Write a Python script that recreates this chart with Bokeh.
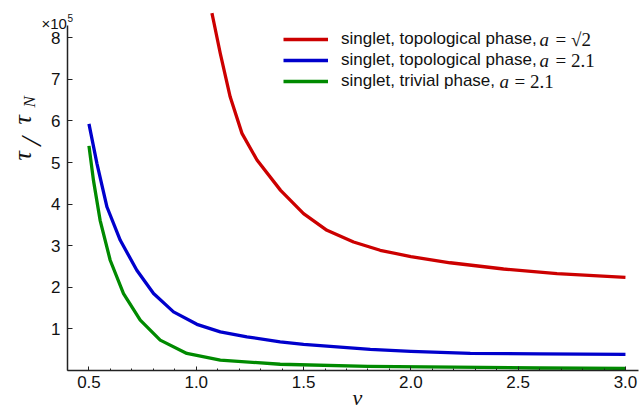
import math
from bokeh.plotting import figure
from bokeh.models import (Range1d, FixedTicker, CustomJSTickFormatter, Legend,
                          LegendItem, Label)
from bokeh.embed import file_html
from bokeh.resources import INLINE

# ---- data (tau / tau_N vs v) ----
v_red = [1.073, 1.08, 1.112, 1.158, 1.213, 1.283, 1.393, 1.5, 1.609, 1.733,
         1.857, 2.0, 2.183, 2.432, 2.681, 3.0]
tau_red = [8.59e5, 8.42e5, 7.62e5, 6.58e5, 5.70e5, 5.06e5, 4.33e5, 3.77e5,
           3.37e5, 3.09e5, 2.89e5, 2.74e5, 2.59e5, 2.44e5, 2.33e5, 2.24e5]

v_blue = [0.5, 0.537, 0.584, 0.646, 0.723, 0.801, 0.894, 1.003, 1.112, 1.236,
          1.391, 1.5, 1.811, 2.0, 2.277, 2.6, 3.0]
tau_blue = [5.93e5, 4.98e5, 3.93e5, 3.13e5, 2.41e5, 1.85e5, 1.41e5, 1.11e5,
            0.93e5, 0.81e5, 0.69e5, 0.63e5, 0.51e5, 0.46e5, 0.41e5, 0.40e5,
            0.39e5]

v_green = [0.5, 0.521, 0.552, 0.599, 0.661, 0.739, 0.832, 0.956, 1.112, 1.391,
           1.8, 2.2, 2.6, 3.0]
tau_green = [5.40e5, 4.57e5, 3.61e5, 2.65e5, 1.85e5, 1.21e5, 0.73e5, 0.41e5,
             0.25e5, 0.15e5, 0.10e5, 0.08e5, 0.06e5, 0.05e5]

x_ticks = [0.5, 1.0, 1.5, 2.0, 2.5, 3.0]
x_minor = [round(0.4 + 0.1 * i, 1) for i in range(27)]
y_ticks = [1e5, 2e5, 3e5, 4e5, 5e5, 6e5, 7e5, 8e5]

labels_text = ["singlet, topological phase,", "singlet, topological phase,",
               "singlet, trivial phase,"]
labels_math = ["= \u221a2", "= 2.1", "= 2.1"]

# ---- layout: frame covers whole canvas, axes drawn at fixed locations ----
W, H = 639, 409
PXU_X = 214.6          # px per unit v
PXU_Y = 41.6 / 1e5     # px per unit tau
AX_X, AX_Y = 67, 370   # canvas px of the axes' origin (v=0.4, tau=0)
X0 = 0.4 - AX_X / PXU_X
X1 = 0.4 + (W - AX_X) / PXU_X
Y1 = AX_Y / PXU_Y
Y0 = -(H - AX_Y) / PXU_Y


def dx(px):
    return 0.4 + (px - AX_X) / PXU_X


def dy(py):
    return (AX_Y - py) / PXU_Y


p = figure(width=W, height=H, output_backend="svg", toolbar_location=None,
           x_range=Range1d(X0, X1), y_range=Range1d(Y0, Y1),
           min_border=0)
p.outline_line_color = None
p.grid.visible = False
p.background_fill_color = "white"
p.border_fill_color = "white"

RED, BLUE, GREEN = "#cc0000", "#0000cc", "#008a00"
r1 = p.line(v_red, tau_red, line_color=RED, line_width=3.3, line_join="round")
r2 = p.line(v_blue, tau_blue, line_color=BLUE, line_width=3.3, line_join="round")
r3 = p.line(v_green, tau_green, line_color=GREEN, line_width=3.3, line_join="round")

INK = "#111111"
ax = p.xaxis[0]
ax.fixed_location = 0
ax.ticker = FixedTicker(ticks=x_ticks, minor_ticks=x_minor)
ax.formatter = CustomJSTickFormatter(code="return tick.toFixed(1)")
ax.bounds = (0.4, 3.06)
ax.major_tick_in = 4
ax.major_tick_out = 0
ax.minor_tick_in = 2
ax.minor_tick_out = 0
ax.axis_line_width = 1.5
ax.axis_line_color = "#222222"
ax.major_tick_line_color = "#222222"
ax.minor_tick_line_color = "#222222"
ax.major_label_text_font = "Liberation Sans"
ax.major_label_text_font_size = "17px"
ax.major_label_text_color = INK
ax.major_label_standoff = 5

ay = p.yaxis[0]
ay.fixed_location = 0.4
ay.ticker = FixedTicker(ticks=y_ticks, minor_ticks=[])
ay.formatter = CustomJSTickFormatter(code="return (tick/1e5).toFixed(0)")
ay.bounds = (0, 8.3e5)
ay.major_tick_in = 5
ay.major_tick_out = 0
ay.minor_tick_in = 0
ay.minor_tick_out = 0
ay.axis_line_width = 1.5
ay.axis_line_color = "#222222"
ay.major_tick_line_color = "#222222"
ay.major_label_text_font = "Liberation Sans"
ay.major_label_text_font_size = "17px"
ay.major_label_text_color = INK
ay.major_label_standoff = 7

# legend (location relative to frame = canvas, from bottom-left)
LEG_X, LEG_TOP = 283, 29.3
legend = Legend(items=[LegendItem(label=labels_text[0], renderers=[r1]),
                       LegendItem(label=labels_text[1], renderers=[r2]),
                       LegendItem(label=labels_text[2], renderers=[r3])],
                location=(LEG_X, H - (LEG_TOP + 62)), padding=0, margin=0,
                glyph_width=45, glyph_height=20, label_height=20, spacing=1,
                label_standoff=13, border_line_alpha=0, background_fill_alpha=0,
                label_text_font="Liberation Sans", label_text_font_size="17px",
                label_text_color=INK)
p.add_layout(legend)

row_y = [39.3, 60.3, 81.3]
a_x = [539, 539, 499]
eq_x = [555, 555, 514]
for i in range(3):
    p.add_layout(Label(x=dx(a_x[i]), y=dy(row_y[i]), text="a",
                       text_font="Liberation Serif", text_font_style="italic",
                       text_font_size="19px", text_baseline="middle",
                       text_align="left", text_color=INK))
    p.add_layout(Label(x=dx(eq_x[i]), y=dy(row_y[i]), text=labels_math[i],
                       text_font="Liberation Serif", text_font_size="19px",
                       text_baseline="middle", text_align="left",
                       text_color=INK))

# x10^5 multiplier
p.add_layout(Label(x=dx(41), y=dy(23), text="\u00d710", text_font="Liberation Sans",
                   text_font_size="15px", text_baseline="alphabetic",
                   text_align="left", text_color=INK))
p.add_layout(Label(x=dx(67), y=dy(17), text="5", text_font="Liberation Sans",
                   text_font_size="10px", text_baseline="alphabetic",
                   text_align="left", text_color=INK))

# axis labels
p.add_layout(Label(x=dx(357), y=dy(397), text="v", text_font="Liberation Serif",
                   text_font_style="italic", text_font_size="22px",
                   text_baseline="alphabetic", text_align="center", text_color=INK))
ang = math.pi / 2
for txt, px_, py_, fs in [("\u03c4", 22, 160, "26px"),
                          ("/", 30, 145, "30px"),
                          ("\u03c4", 22, 124, "26px"),
                          ("N", 29, 107, "17px")]:
    p.add_layout(Label(x=dx(px_), y=dy(py_), text=txt, angle=ang,
                       text_font="Liberation Serif", text_font_style="italic",
                       text_font_size=fs, text_baseline="alphabetic",
                       text_align="left", text_color=INK))

open("out.html", "w").write(file_html(p, INLINE))
